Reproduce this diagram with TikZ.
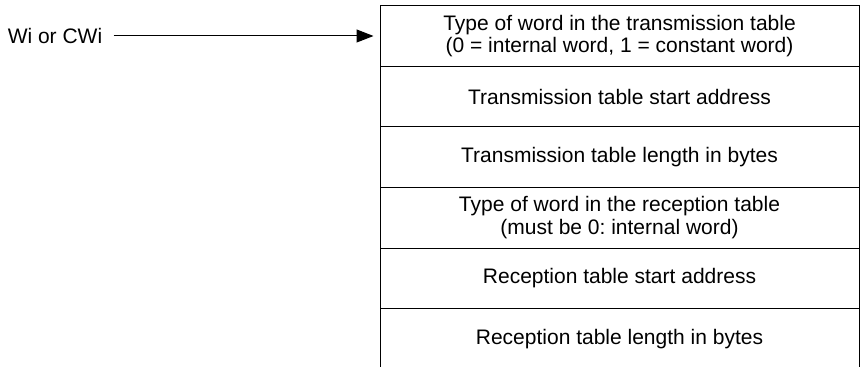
\documentclass[tikz,border=0pt]{standalone}
\usepackage{fontspec}
\setmainfont{Liberation Sans}
\usetikzlibrary{arrows.meta,positioning}
\frenchspacing

\tikzset{
  every field/.style={draw, line width=0.5pt, minimum width=239.5pt,
    minimum height=30.3pt, inner sep=0pt, outer sep=0pt, align=center,
    font=\fontsize{10.5pt}{11.4pt}\selectfont},
  every label text/.style={inner sep=0pt, font=\fontsize{10.5pt}{11.4pt}\selectfont}
}

\begin{document}
\begin{tikzpicture}[x=0.5pt, y=-0.5pt, >={Triangle[length=8.5pt, width=6.5pt]}]

\useasboundingbox (0,0) rectangle (862,367);

\node [every field/.try] (field-1) at (619.5,36) {Type of word in the transmission table\\(0 = internal word, 1 = constant word)};

\foreach \t [count=\y from 2, evaluate=\y as \p using int(\y-1)] in
  {Transmission table start address,
   Transmission table length in bytes,
   {Type of word in the reception table\\(must be 0: internal word)},
   Reception table start address,
   Reception table length in bytes}
  \node [every field/.try, below=0pt of field-\p] (field-\y) {\t};

\node [every label text/.try] (word-in) at (55,36) {Wi or CWi};

\draw [->, line width=0.5pt, shorten <=5.5pt, shorten >=3.25pt] (word-in) -- (field-1);

\end{tikzpicture}
\end{document}
